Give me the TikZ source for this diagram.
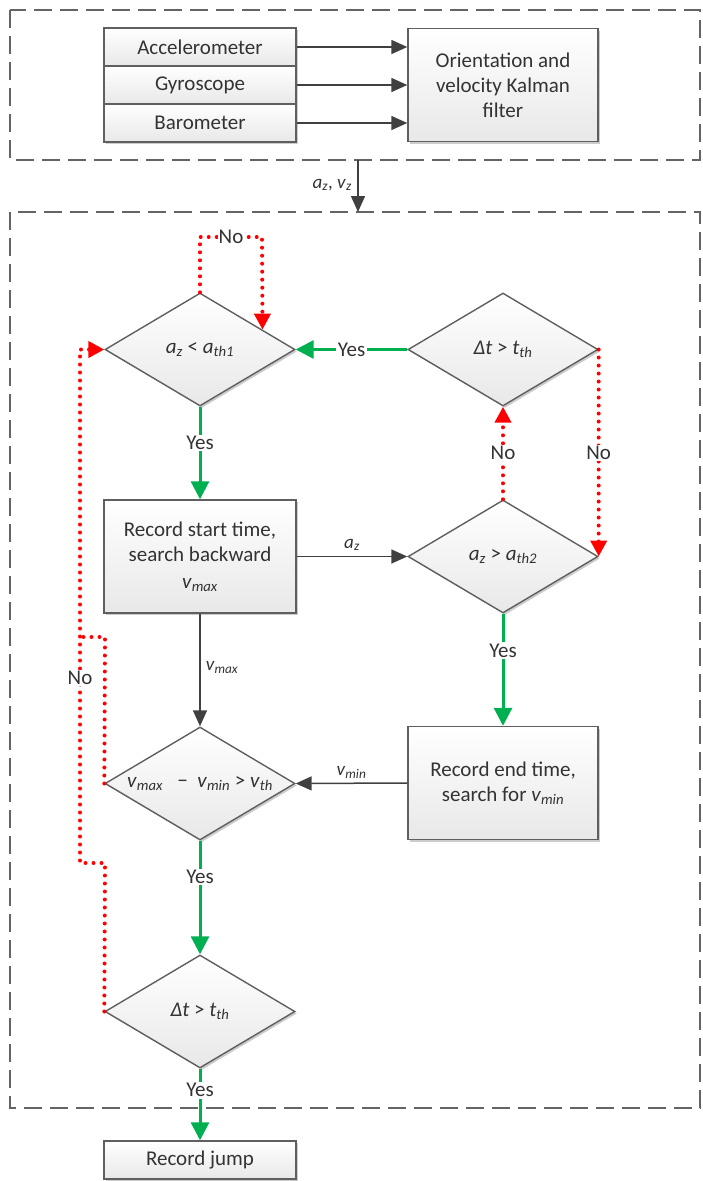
\documentclass[tikz,border=0pt]{standalone}
\usepackage{fontspec}
\setmainfont{Carlito}
\usetikzlibrary{shapes.geometric,arrows.meta,calc,shadows}
\definecolor{lc}{RGB}{64,64,64}
\definecolor{bc}{RGB}{95,95,95}
\definecolor{dc}{RGB}{100,100,100}
\definecolor{gr}{RGB}{0,176,80}
\definecolor{rd}{RGB}{255,0,0}
\newcommand\vsub[2]{\textit{#1}\textsubscript{\textit{#2}}}
\begin{document}
\begin{tikzpicture}[x=1pt,y=-1pt,
  font=\fontsize{21}{25}\selectfont,
  shad/.style={drop shadow={shadow xshift=2pt,shadow yshift=-2pt,opacity=0.2,fill=black}},
  box/.style={draw=bc,line width=1.4pt,top color=white,bottom color=black!9,shad,
    align=center,inner sep=0pt,text=black!80},
  dia/.style={shape=diamond,draw=bc,line width=1.4pt,top color=white,bottom color=black!9,shad,
    minimum width=190pt,minimum height=113pt,inner sep=0pt,aspect=1.68,text=black!80},
  frame/.style={draw=dc,line width=1.5pt,dash pattern=on 18pt off 8pt},
  blk/.style={draw=lc,line width=1.5pt,-{Triangle[length=16pt,width=14pt]}},
  grn/.style={draw=gr,line width=3pt,-{Triangle[length=18pt,width=18pt]}},
  rdl/.style={draw=rd,line width=4pt,dash pattern=on 0pt off 8pt,line cap=round,
    -{Triangle[length=16pt,width=16pt,line cap=butt]}},
  rdn/.style={draw=rd,line width=4pt,dash pattern=on 0pt off 8pt,line cap=round},
  lbl/.style={fill=white,inner sep=1.5pt,text=black!80},
  ilbl/.style={inner sep=1pt,text=black!80,font=\fontsize{19}{22}\selectfont}
]
\useasboundingbox (0,0) rectangle (702,1181);

% frames
\draw[frame] (10,10) rectangle (700,160);
\draw[frame] (10,212) rectangle (700,1108);

% top section
\node[box,minimum width=192pt,minimum height=38pt] (acc) at (200,47) {Accelerometer};
\node[box,minimum width=192pt,minimum height=38pt] (gyr) at (200,85) {Gyroscope};
\node[box,minimum width=192pt,minimum height=38pt] (bar) at (200,123) {Barometer};
\node[box,minimum width=190pt,minimum height=113pt] (kal) at (503,85) {Orientation and\\velocity Kalman\\filter};
\draw[blk] (acc.east) -- (acc.east -| kal.west);
\draw[blk] (gyr.east) -- (gyr.east -| kal.west);
\draw[blk] (bar.east) -- (bar.east -| kal.west);

\coordinate (ftop) at (358,160);
\coordinate (fbot) at (358,212);
\draw[blk] (ftop) -- (fbot);
\node[ilbl,anchor=east] (azvz) at (353,185) {\vsub{a}{z}, \vsub{v}{z}};

% flowchart
\node[dia] (d1) at (200,349.5) {\vsub{a}{z} < \vsub{a}{th1}};
\node[dia] (d2) at (503,349.5) {\textit{Δt} > \vsub{t}{th}};
\node[box,minimum width=192pt,minimum height=113pt] (rs) at (200,556.5)
  {Record start time,\\search backward\\[2pt]\vsub{v}{max}};
\node[dia] (d3) at (503,556.5) {\vsub{a}{z} > \vsub{a}{th2}};
\node[box,minimum width=190pt,minimum height=113pt] (re) at (503,783)
  {Record end time,\\search for \vsub{v}{min}};
\node[dia] (d4) at (200,783.5) {\vsub{v}{max} \ \ − \ \vsub{v}{min} > \vsub{v}{th}};
\node[dia] (d5) at (200,1011.5) {\textit{Δt} > \vsub{t}{th}};
\node[box,minimum width=192pt,minimum height=38pt] (rj) at (200,1160) {Record jump};

% black connectors
\draw[blk] (rs.east) -- node[ilbl,above=4pt] (laz) {\vsub{a}{z}} (d3.west);
\draw[blk] (rs.south) -- node[ilbl,right=4pt,pos=0.48] (lvmax) {\vsub{v}{max}} (d4.north);
\draw[blk] (re.west) -- node[ilbl,above=3pt] (lvmin) {\vsub{v}{min}} (d4.east);

% green connectors
\draw[grn] (d2.west) -- node[lbl] (y1) {Yes} (d1.east);
\draw[grn] (d1.south) -- node[lbl,pos=0.39] (y2) {Yes} (rs.north);
\draw[grn] (d3.south) -- node[lbl,pos=0.33] (y3) {Yes} (re.north);
\draw[grn] (d4.south) -- node[lbl,pos=0.32] (y4) {Yes} (d5.north);
\draw[grn] (d5.south) -- node[lbl,pos=0.3] (y5) {Yes} (rj.north);

% red connectors
\coordinate (t1) at (200,237);
\coordinate (t2) at (262,237);
\coordinate (t3) at ($(d1.north)!0.653!(d1.east)$);
\draw[rdl] (d1.north) -- (t1) -- node[lbl,inner sep=1pt] (n1) {No} (t2) -- (t3);
\draw[rdl] (d3.north) -- node[lbl,pos=0.5] (n2) {No} (d2.south);
\draw[rdl] (d2.east) -- node[lbl,pos=0.5] (n3) {No} (d3.east);
\coordinate (l1) at (105,863);
\coordinate (l2) at (80,863);
\coordinate (l3) at (80,349.5);
\coordinate (l4) at (105,637);
\coordinate (l5) at (80,637);
\draw[rdl] (d5.west) -- (l1) -- (l2) -- (l3) -- (d1.west);
\draw[rdn] (d4.west) -- (l4) -- (l5);
\node[lbl] (n4) at (80,678) {No};
\end{tikzpicture}
\end{document}
